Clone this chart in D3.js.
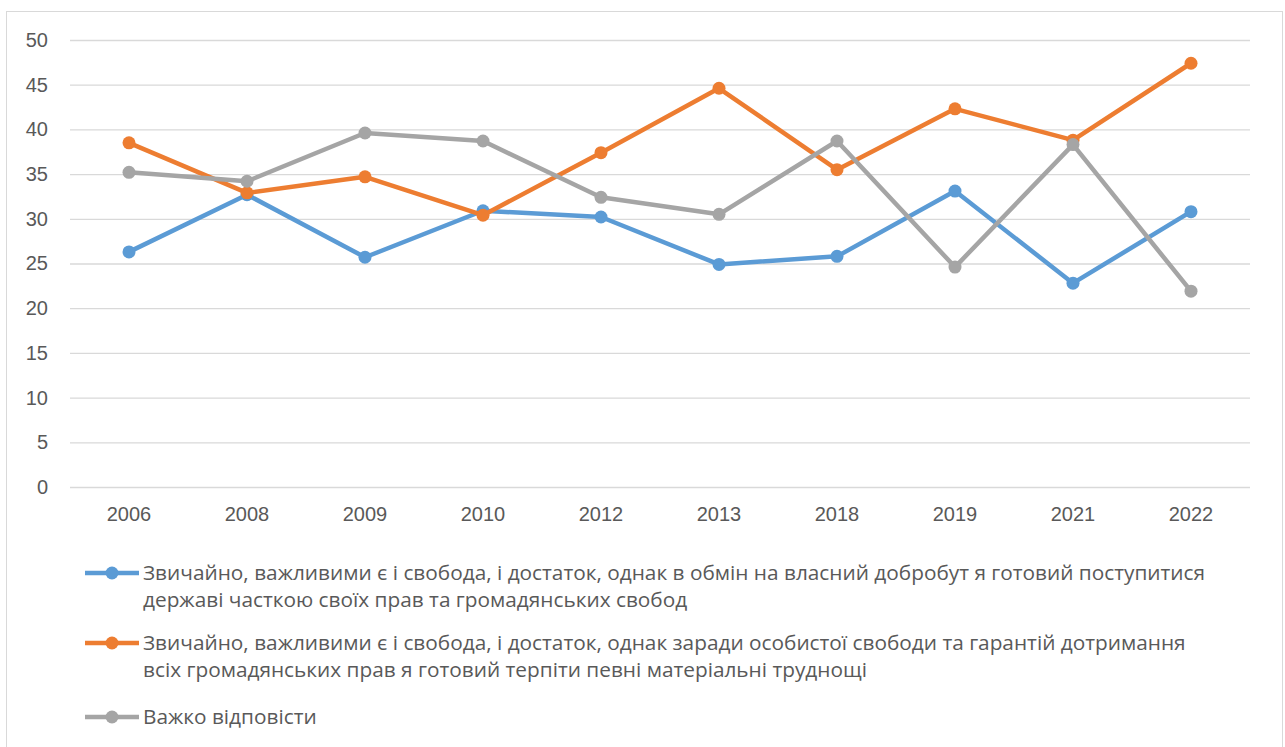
<!DOCTYPE html>
<html>
<head>
<meta charset="utf-8">
<script src="https://cdn.jsdelivr.net/npm/d3@7"></script>
<style>
	body { margin: 0; background: #fff; }
	svg { display: block; font-family: "Open Sans", "Noto Sans", sans-serif; }
	.tick text { fill: #595959; font-size: 20px; }
	.legend-labels { fill: #595959; font-size: 20.8px; }
</style>
</head>
<body>
<svg id="viz" width="1285" height="747"></svg>
<script>

// Data
const years = ["2006", "2008", "2009", "2010", "2012", "2013", "2018", "2019", "2021", "2022"];
const exchangeFreedom = [26.3, 32.7, 25.7, 30.9, 30.2, 24.9, 25.8, 33.1, 22.8, 30.8];
const enduringHardship = [38.5, 32.9, 34.7, 30.4, 37.4, 44.6, 35.5, 42.3, 38.8, 47.4];
const hardToSay = [35.2, 34.2, 39.6, 38.7, 32.4, 30.5, 38.7, 24.6, 38.3, 21.9];
const yTicks = [0, 5, 10, 15, 20, 25, 30, 35, 40, 45, 50];

const seriesNames = [
	["Звичайно, важливими є і свобода, і достаток, однак в обмін на власний добробут я готовий поступитися",
	 "державі часткою своїх прав та громадянських свобод"],
	["Звичайно, важливими є і свобода, і достаток, однак заради особистої свободи та гарантій дотримання",
	 "всіх громадянських прав я готовий терпіти певні матеріальні труднощі"],
	["Важко відповісти"]
];
const colors = ["#5B9BD5", "#ED7D31", "#A5A5A5"];

let series = [exchangeFreedom, enduringHardship, hardToSay].map(function(vals, i) {
	return {
		name: seriesNames[i],
		color: colors[i],
		values: vals.map((v, j) => ({ year: years[j], value: v }))
	};
});

const margin = { top: 40, left: 70, right: 35, bottom: 260 };

let svg = d3.select("svg#viz");
let width = +svg.attr("width");
let height = +svg.attr("height");
let plotWidth = width - margin.left - margin.right;
let plotHeight = height - margin.top - margin.bottom;

// chart frame
svg.append("rect")
	.attr("x", 6.5)
	.attr("y", 11.5)
	.attr("width", 1276)
	.attr("height", 760)
	.attr("fill", "none")
	.attr("stroke", "#D9D9D9");

let xScale = d3.scaleBand()
	.domain(years)
	.range([0, plotWidth]);

let yScale = d3.scaleLinear()
	.domain([0, 50])
	.range([plotHeight, 0]);

let plot = svg.append("g")
	.attr("transform", `translate(${margin.left}, ${margin.top})`);

// gridlines + y labels
let yAxis = d3.axisLeft(yScale)
	.tickValues(yTicks)
	.tickSize(-plotWidth)
	.tickPadding(22);
let yGroup = plot.append("g").attr("id", "y-axis").call(yAxis);
yGroup.select(".domain").remove();
yGroup.selectAll(".tick line").attr("stroke", "#D9D9D9").attr("stroke-width", 1.3);

let xAxis = d3.axisBottom(xScale).tickSize(0).tickPadding(20);
let xGroup = plot.append("g")
	.attr("id", "x-axis")
	.attr("transform", "translate(0," + plotHeight + ")")
	.call(xAxis);
xGroup.select(".domain").remove();

let line = d3.line()
	.x(d => xScale(d.year) + xScale.bandwidth() / 2)
	.y(d => yScale(d.value));

let groups = plot.selectAll("g.series")
	.data(series)
	.enter().append("g")
	.classed("series", true);

groups.append("path")
	.attr("d", d => line(d.values))
	.attr("fill", "none")
	.attr("stroke", d => d.color)
	.attr("stroke-width", 4.5)
	.attr("stroke-linejoin", "round");

groups.selectAll("circle")
	.data(d => d.values.map(v => ({ ...v, color: d.color })))
	.enter().append("circle")
	.attr("cx", d => xScale(d.year) + xScale.bandwidth() / 2)
	.attr("cy", d => yScale(d.value))
	.attr("r", 6.5)
	.attr("fill", d => d.color);

// legend
const legendTops = [580, 650, 724];
let legend = svg.append("g").attr("id", "legend");

let items = legend.selectAll("g.item")
	.data(series)
	.enter().append("g")
	.classed("item", true)
	.attr("transform", (d, i) => `translate(0, ${legendTops[i]})`);

items.append("line")
	.attr("x1", 85).attr("x2", 139)
	.attr("y1", -7).attr("y2", -7)
	.attr("stroke", d => d.color)
	.attr("stroke-width", 4.5);

items.append("circle")
	.attr("cx", 112)
	.attr("cy", -7)
	.attr("r", 6.5)
	.attr("fill", d => d.color);

items.append("text")
	.attr("class", "legend-labels")
	.attr("x", 143)
	.selectAll("tspan")
	.data(d => d.name)
	.enter().append("tspan")
	.attr("x", 143)
	.attr("dy", (d, i) => i == 0 ? 0 : 27)
	.text(d => d);

</script>
</body>
</html>
